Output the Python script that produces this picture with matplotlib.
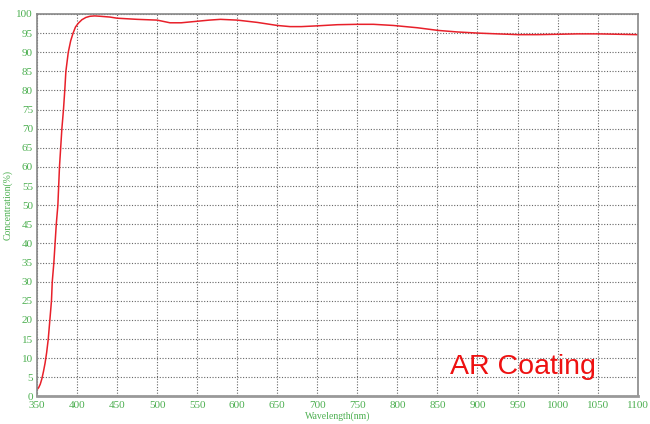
import matplotlib
matplotlib.use("Agg")
import matplotlib.pyplot as plt

# spectrum
wavelength = [350, 352, 354, 356, 358, 360, 362, 364, 366, 368, 369, 371, 372.5, 374, 376,
              378, 381, 383, 384.6, 386, 389, 392, 395, 398, 401.6, 406, 411, 416, 422,
              429, 441, 450, 475, 500, 516, 530, 550, 565, 579, 600, 625, 650, 666, 680,
              700, 725, 750, 770, 795, 825, 851, 875, 901, 925, 951, 975, 1001, 1025,
              1051, 1075, 1100]
concentration = [1.8, 2.3, 3.2, 4.6, 6.5, 8.7, 11.5, 15.0, 20.0, 25.0, 30.0, 35.0, 40.0,
                 45.0, 50.0, 60.0, 70.0, 75.0, 80.0, 85.0, 90.0, 93.0, 95.0, 96.6, 97.6,
                 98.5, 99.1, 99.4, 99.5, 99.4, 99.2, 98.9, 98.6, 98.4, 97.7, 97.7, 98.1,
                 98.4, 98.6, 98.4, 97.8, 97.0, 96.7, 96.7, 96.9, 97.2, 97.3, 97.3, 97.0,
                 96.4, 95.7, 95.3, 95.0, 94.8, 94.6, 94.6, 94.7, 94.8, 94.8, 94.7, 94.6]

x_ticks = list(range(350, 1101, 50))
y_ticks = list(range(0, 101, 5))

green = '#4caf50'

fig = plt.figure(figsize=(6.5, 4.24), dpi=100)
ax = fig.add_axes([0.057, 0.065, 0.924, 0.902])

ax.plot(wavelength, concentration, color='#e8202a', linewidth=1.1)

ax.set_xlim(350, 1100)
ax.set_ylim(0, 100)
ax.set_xticks(x_ticks)
ax.set_yticks(y_ticks)
ax.tick_params(length=0, labelsize=8, labelcolor=green, pad=3)
for lab in ax.get_xticklabels() + ax.get_yticklabels():
    lab.set_family('Liberation Serif')

ax.grid(True, linestyle=(0, (1, 1.5)), color='#666666', linewidth=0.8)

for s in ['top', 'right', 'left']:
    ax.spines[s].set_color('#888888')
    ax.spines[s].set_linewidth(1.2)
ax.spines['bottom'].set_color('#999999')
ax.spines['bottom'].set_linewidth(2)

ax.set_xlabel('Wavelength(nm)', fontsize=7, color=green, family='Liberation Serif', labelpad=1)
ax.set_ylabel('Concentration(%)', fontsize=7, color=green, family='Liberation Serif')
ax.yaxis.set_label_coords(-0.041, 0.5)

ax.text(957, 7.6, 'AR Coating', color='#ee1111', fontsize=20.5, family='Liberation Sans',
        ha='center', va='center')

fig.savefig('out.png', dpi=100)
